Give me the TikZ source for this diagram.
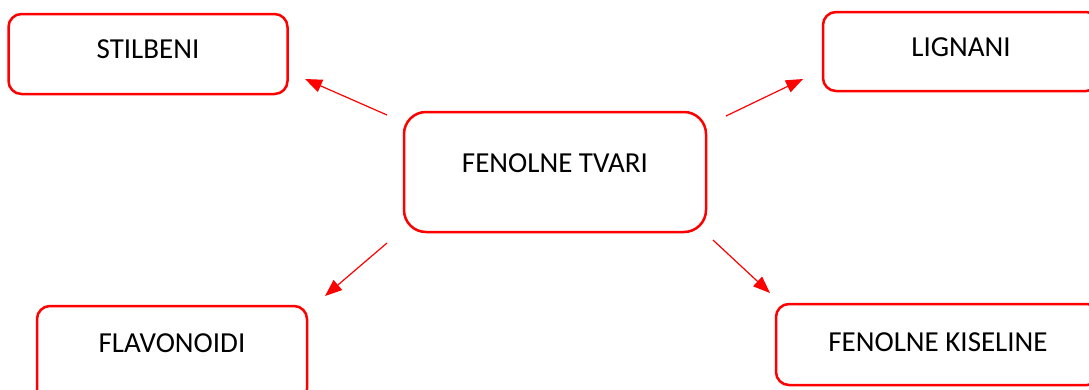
\documentclass[tikz,border=0pt]{standalone}
\usepackage{fontspec}
\setmainfont{Carlito}
\usetikzlibrary{arrows.meta, positioning}

\tikzset{
  box/.style={draw=red, line width=2.5pt, rounded corners=13pt, fill=white,
    minimum width=279pt, minimum height=80pt, inner sep=0pt,
    text height=18pt, text depth=10pt, font=\fontsize{29}{32}\selectfont},
  arr/.style={red, line width=1.2pt, -{Triangle[length=17pt, width=13pt]}}
}

\begin{document}
\begin{tikzpicture}[x=1pt, y=-1pt]
\useasboundingbox (0,0) rectangle (1089,389);
\node[box, minimum width=302pt, minimum height=120pt, rounded corners=22pt, text depth=17pt] (tvari) at (555,172) {FENOLNE TVARI};
\node[box] (stilbeni) at (148,54) {STILBENI};
\node[box, minimum width=276pt, minimum height=79pt, text depth=8pt] (lignani) at (961,51.5) {LIGNANI};
\node[box, minimum width=270pt, minimum height=96pt, text depth=22pt] (flavonoidi) at (172,354) {FLAVONOIDI};
\node[box, minimum width=324pt, minimum height=81pt, text depth=5pt] (kiseline) at (938,344.5) {FENOLNE KISELINE};
% free arrow ends
\path
(387,115) coordinate (a1) (305,79) coordinate (b1)
(726,116) coordinate (a2) (803,79) coordinate (b2)
(387,243) coordinate (a3) (325,296) coordinate (b3)
(713,240) coordinate (a4) (770,293) coordinate (b4);
\foreach \i in {1,...,4} \draw[arr] (a\i) -- (b\i);
\end{tikzpicture}
\end{document}
